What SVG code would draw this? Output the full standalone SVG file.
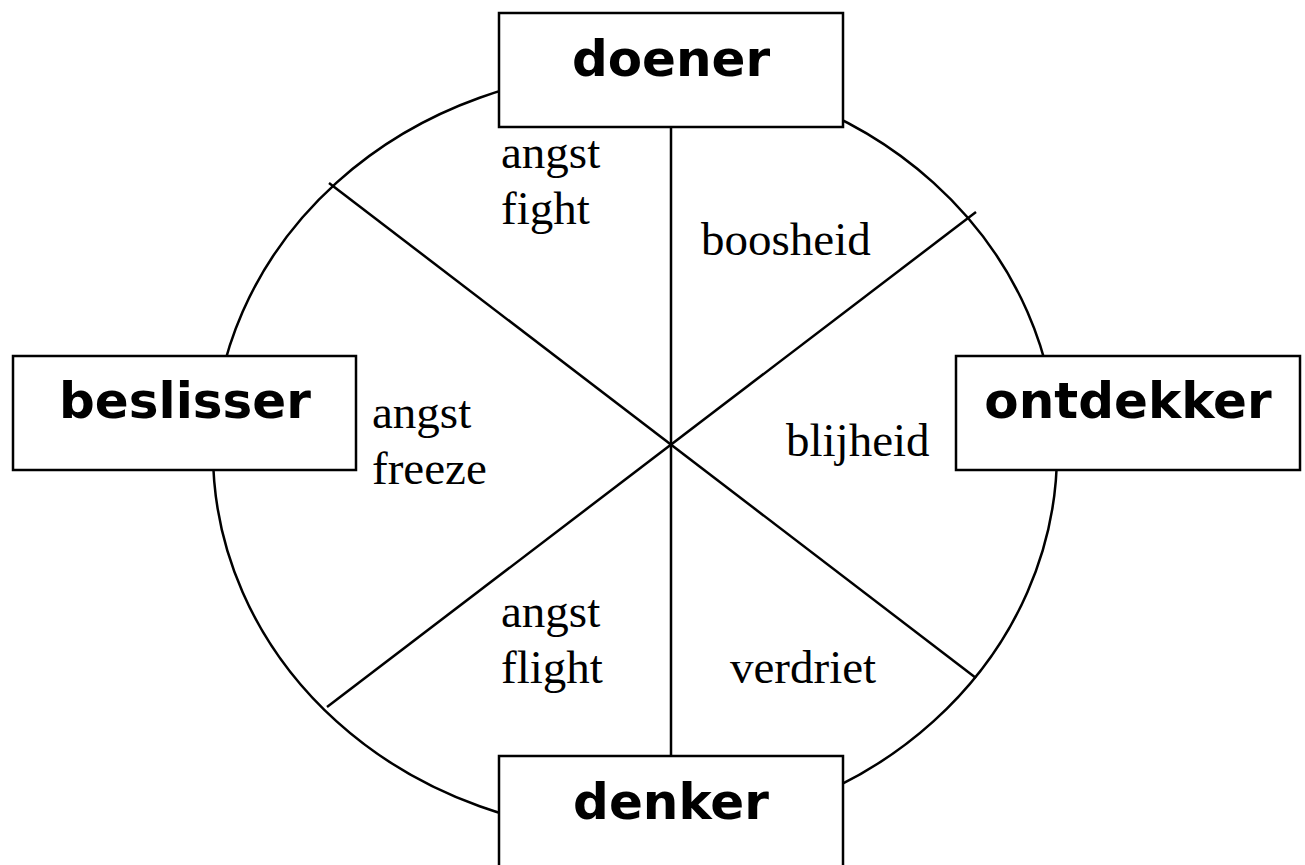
<svg xmlns="http://www.w3.org/2000/svg" width="1305" height="865" viewBox="0 0 1305 865">
<style>
.ln{stroke:#000;stroke-width:2.5;fill:none}
.box{fill:#fff;stroke:#000;stroke-width:2.5}
.bt{font-family:"DejaVu Sans",Verdana,sans-serif;font-weight:bold;font-size:50px;text-anchor:middle;fill:#000}
.lb{font-family:"Liberation Serif","Times New Roman",serif;font-size:47px;fill:#000}
</style>
<rect width="1305" height="865" fill="#fff"/>
<g id="connectors">
<ellipse class="ln" cx="635" cy="452" rx="422" ry="381"/>
<line class="ln" x1="671" y1="127" x2="671" y2="757"/>
<line class="ln" x1="329" y1="183" x2="976" y2="678"/>
<line class="ln" x1="976" y1="212" x2="327" y2="707"/>
</g>
<g id="doener"><rect class="box" x="499" y="13" width="344" height="114"/><text class="bt" x="671" y="76">doener</text></g>
<g id="beslisser"><rect class="box" x="13" y="356" width="343" height="114"/><text class="bt" x="185" y="418">beslisser</text></g>
<g id="ontdekker"><rect class="box" x="956" y="356" width="344" height="114"/><text class="bt" x="1128" y="418">ontdekker</text></g>
<g id="denker"><rect class="box" x="499" y="756" width="344" height="120"/><text class="bt" x="671" y="819">denker</text></g>
<g id="labels">
<text class="lb" x="501" y="168">angst</text>
<text class="lb" x="501" y="224">fight</text>
<text class="lb" x="701" y="255">boosheid</text>
<text class="lb" x="372" y="428">angst</text>
<text class="lb" x="372" y="484">freeze</text>
<text class="lb" x="786" y="456">blijheid</text>
<text class="lb" x="501" y="627">angst</text>
<text class="lb" x="501" y="683">flight</text>
<text class="lb" x="730" y="683">verdriet</text>
</g>
</svg>
